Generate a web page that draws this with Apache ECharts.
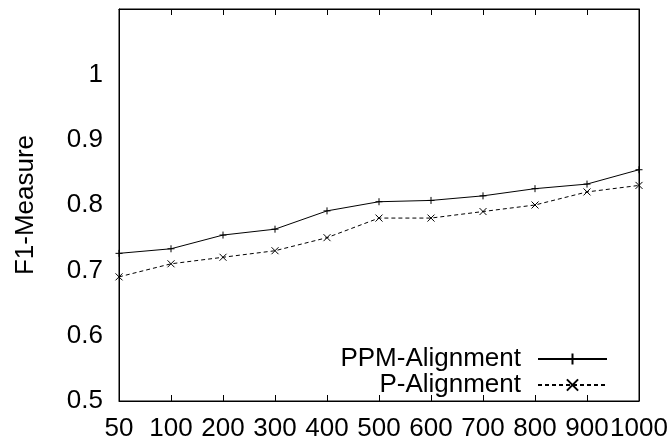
<!DOCTYPE html>
<html>
<head>
	<meta charset="utf-8"/>
	<title>F1-Measure</title>
	<style>
		* { margin: 0; padding: 0; }
		body { background: #fff; }
	</style>
</head>
<body>
	<div style="width: 670px;height:446px;background: #fff;" id="myChart"></div>

	<script src="https://cdn.jsdelivr.net/npm/echarts@6/dist/echarts.min.js"></script>
	<script>
		// data
		var categories = ['50', '100', '200', '300', '400', '500', '600', '700', '800', '900', '1000'];
		var ppmAlignment = [0.726, 0.733, 0.754, 0.763, 0.791, 0.805, 0.807, 0.814, 0.825, 0.832, 0.854];
		var pAlignment = [0.69, 0.71, 0.72, 0.73, 0.75, 0.78, 0.78, 0.79, 0.80, 0.82, 0.83];
		var yTicks = { min: 0.5, max: 1.1, step: 0.1 };

		var plus = 'path://M0,5L10,5M5,0L5,10';
		var cross = 'path://M0,0L10,10M10,0L0,10';
		var font = 'Liberation Sans';

		var myChart = echarts.init(document.getElementById('myChart'));

		var tickStyle = { inside: true, length: 6, lineStyle: { color: '#000' } };

		var option = {
			animation: false,
			textStyle: { fontFamily: font, color: '#000' },
			grid: {
				left: 119, right: 31, top: 9, bottom: 45,
				outerBoundsMode: 'none',
				show: true, borderColor: '#000', borderWidth: 1
			},
			legend: {
				orient: 'vertical',
				align: 'right',
				right: 57,
				top: 341,
				itemWidth: 69,
				itemHeight: 14,
				itemGap: 0,
				textStyle: { fontSize: 26, fontFamily: font, color: '#000', padding: [0, 12, 0, 0] },
				data: ['PPM-Alignment', 'P-Alignment']
			},
			xAxis: [
				{
					type: 'category',
					data: categories,
					boundaryGap: false,
					axisLine: { lineStyle: { color: '#000' } },
					axisTick: tickStyle,
					axisLabel: { interval: 0, fontSize: 26, margin: 15, color: '#000', fontFamily: font, hideOverlap: false }
				},
				{
					type: 'category',
					data: categories,
					position: 'top',
					boundaryGap: false,
					axisLine: { lineStyle: { color: '#000' } },
					axisTick: tickStyle,
					axisLabel: { show: false }
				}
			],
			yAxis: [
				{
					type: 'value',
					min: yTicks.min,
					max: yTicks.max,
					interval: yTicks.step,
					name: 'F1-Measure',
					nameLocation: 'middle',
					nameGap: 80,
					nameTextStyle: { fontSize: 26, fontFamily: font, color: '#000' },
					axisLine: { show: true, lineStyle: { color: '#000' } },
					axisTick: tickStyle,
					splitLine: { show: false },
					axisLabel: {
						fontSize: 26, margin: 16, color: '#000', fontFamily: font,
						formatter: function (v) { return v > 1.05 ? '' : String(+v.toFixed(1)); }
					}
				},
				{
					type: 'value',
					position: 'right',
					min: yTicks.min,
					max: yTicks.max,
					interval: yTicks.step,
					axisLine: { show: true, lineStyle: { color: '#000' } },
					axisTick: tickStyle,
					splitLine: { show: false },
					axisLabel: { show: false }
				}
			],
			series: [
				{
					name: 'PPM-Alignment',
					type: 'line',
					data: ppmAlignment,
					symbol: plus,
					symbolSize: 7,
					showAllSymbol: true,
					lineStyle: { color: '#000', width: 1 },
					itemStyle: { color: '#000', borderColor: '#000', borderWidth: 1 }
				},
				{
					name: 'P-Alignment',
					type: 'line',
					data: pAlignment,
					symbol: cross,
					symbolSize: 7,
					showAllSymbol: true,
					lineStyle: { color: '#000', width: 1, type: [4, 3] },
					itemStyle: { color: '#000', borderColor: '#000', borderWidth: 1 }
				}
			]
		};

		myChart.setOption(option);
	</script>
</body>
</html>
